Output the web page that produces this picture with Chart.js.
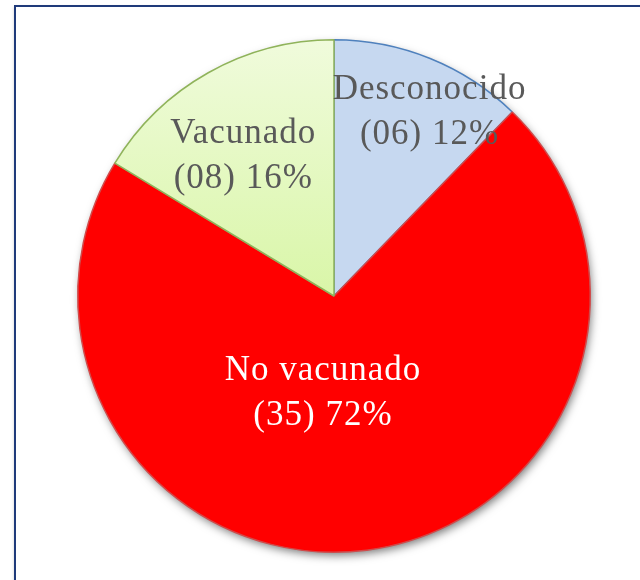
<!DOCTYPE html>
<html>
<head>
<meta charset="utf-8">
<script src="https://cdn.jsdelivr.net/npm/chart.js@4"></script>
<style>
  html, body { margin: 0; padding: 0; background: #fff; overflow: hidden; }
  #wrap { position: relative; width: 640px; height: 580px; }
  #frame {
    position: absolute; left: 14px; top: 5px; width: 700px; height: 700px;
    border: 2px solid #1f3a7a; box-shadow: 0 2px 3px rgba(0,0,0,0.18);
    box-sizing: border-box;
  }
  canvas { position: absolute; left: 0; top: 0; }
</style>
</head>
<body>
<div id="wrap">
  <div id="frame"></div>
  <canvas id="pie" width="640" height="580"></canvas>
</div>
<script>
const categories = ["Desconocido", "No vacunado", "Vacunado"];
const counts = [6, 35, 8];
const percentLabels = ["12%", "72%", "16%"];
const countLabels = ["(06)", "(35)", "(08)"];

const fills = ["#c6d8f0", "#ff0000", "greenGradient"];
const borders = ["#4f81bd", "#d04a4a", "#8fb35a"];
const textColors = ["#595959", "#ffffff", "#595959"];
// label placement: fraction of radius, angle in degrees clockwise from top
const labelPlace = [[0.81, 27.4], [0.38, 186.5], [0.65, -33]];

const shadowPlugin = {
  id: "pieShadow",
  beforeDatasetsDraw(chart) {
    const arc = chart.getDatasetMeta(0).data[0];
    if (!arc) return;
    const ctx = chart.ctx;
    ctx.save();
    ctx.shadowColor = "rgba(0,0,0,0.55)";
    ctx.shadowBlur = 10;
    ctx.shadowOffsetX = 2;
    ctx.shadowOffsetY = 4;
    ctx.fillStyle = "#ff0000";
    ctx.beginPath();
    ctx.arc(arc.x, arc.y, arc.outerRadius - 1, 0, Math.PI * 2);
    ctx.fill();
    ctx.restore();
  }
};

const labelPlugin = {
  id: "sliceLabels",
  afterDatasetsDraw(chart) {
    const meta = chart.getDatasetMeta(0);
    const ctx = chart.ctx;
    ctx.save();
    ctx.font = "35px 'Liberation Serif', serif";
    if ("letterSpacing" in ctx) ctx.letterSpacing = "1px";
    ctx.textAlign = "center";
    ctx.textBaseline = "middle";
    meta.data.forEach((arc, i) => {
      const [f, deg] = labelPlace[i];
      const a = deg * Math.PI / 180;
      const x = arc.x + Math.sin(a) * arc.outerRadius * f;
      const y = arc.y - Math.cos(a) * arc.outerRadius * f;
      ctx.fillStyle = textColors[i];
      ctx.fillText(categories[i], x, y - 22);
      ctx.fillText(countLabels[i] + " " + percentLabels[i], x, y + 23);
    });
    ctx.restore();
  }
};

function sliceFill(context) {
  const i = context.dataIndex;
  if (fills[i] !== "greenGradient") return fills[i];
  const area = context.chart.chartArea;
  if (!area) return "#e4f8c4";
  const g = context.chart.ctx.createLinearGradient(0, area.top, 0, area.top + area.height / 2);
  g.addColorStop(0, "#f0fbdc");
  g.addColorStop(1, "#d9f6a8");
  return g;
}

new Chart(document.getElementById("pie"), {
  type: "pie",
  data: {
    labels: categories,
    datasets: [{
      data: counts,
      backgroundColor: sliceFill,
      borderColor: borders,
      borderWidth: 1.5
    }]
  },
  options: {
    responsive: false,
    animation: false,
    layout: { padding: { left: 77, right: 49, top: 39, bottom: 27 } },
    plugins: { legend: { display: false }, tooltip: { enabled: false } }
  },
  plugins: [shadowPlugin, labelPlugin]
});
</script>
</body>
</html>
